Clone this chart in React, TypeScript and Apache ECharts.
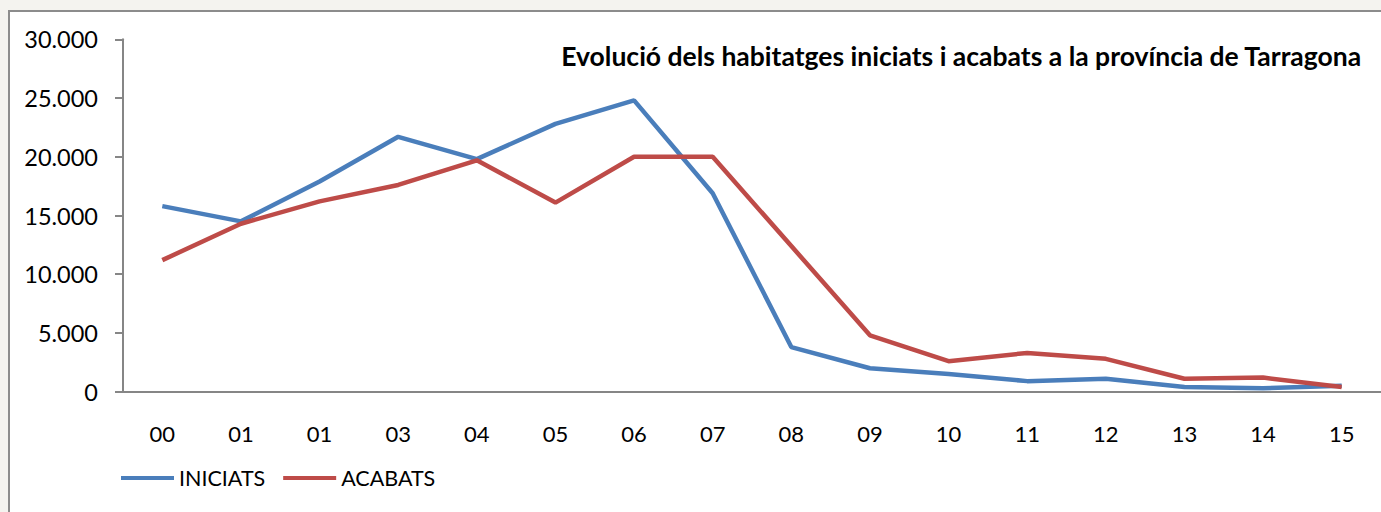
import React, { useEffect, useRef } from "react";
import * as echarts from "echarts";

const categories = ["00", "01", "01", "03", "04", "05", "06", "07", "08", "09", "10", "11", "12", "13", "14", "15"];
const iniciats = [15800, 14500, 17900, 21700, 19800, 22800, 24800, 16900, 3800, 2000, 1500, 900, 1100, 400, 300, 500];
const acabats = [11200, 14300, 16200, 17600, 19700, 16100, 20000, 20000, 12400, 4800, 2600, 3300, 2800, 1100, 1200, 400];
const titleText = "Evolució dels habitatges iniciats i acabats a la província de Tarragona";
const seriesNames = ["INICIATS", "ACABATS"];

const FONT = "Lato, 'Liberation Sans', sans-serif";

export default function App() {
  const ref = useRef<HTMLDivElement>(null);
  useEffect(() => {
    document.body.style.margin = "0";
    document.body.style.overflow = "hidden";
    const chart = echarts.init(ref.current!, null, { renderer: "svg" });
    chart.setOption({
      animation: false,
      backgroundColor: "transparent",
      title: {
        text: titleText,
        right: 14,
        top: 37,
        textStyle: { fontFamily: FONT, fontSize: 26.5, fontWeight: "bold", color: "#000" },
      },
      legend: {
        left: 116,
        top: 462,
        icon: "rect",
        itemWidth: 53,
        itemHeight: 4,
        itemGap: 18,
        textStyle: { fontFamily: FONT, fontSize: 21.5, color: "#000" },
        data: seriesNames,
      },
      grid: { left: 123, top: 39.3, height: 352.4, width: 1265, containLabel: false },
      xAxis: {
        type: "category",
        data: categories,
        boundaryGap: true,
        axisLine: { lineStyle: { color: "#868686", width: 2 } },
        axisTick: { length: 8, lineStyle: { color: "#868686", width: 2 } },
        axisLabel: { interval: 0, margin: 31, fontFamily: FONT, fontSize: 22, color: "#000" },
        splitLine: { show: false },
      },
      yAxis: {
        type: "value",
        min: 0,
        max: 30000,
        interval: 5000,
        axisLine: { show: true, lineStyle: { color: "#868686", width: 2 } },
        axisTick: { show: true, length: 8, lineStyle: { color: "#868686", width: 2 } },
        axisLabel: {
          margin: 25,
          fontFamily: FONT,
          fontSize: 23.5,
          color: "#000",
          formatter: (v: number) => (v === 0 ? "0" : v.toLocaleString("de-DE")),
        },
        splitLine: { show: false },
      },
      series: [
        {
          name: seriesNames[0],
          type: "line",
          data: iniciats,
          symbol: "none",
          lineStyle: { color: "#4a7ebb", width: 4.5 },
          itemStyle: { color: "#4a7ebb" },
        },
        {
          name: seriesNames[1],
          type: "line",
          data: acabats,
          symbol: "none",
          lineStyle: { color: "#be4b48", width: 4.5 },
          itemStyle: { color: "#be4b48" },
        },
      ],
    });
    return () => chart.dispose();
  }, []);
  return (
    <div style={{ position: "relative", width: 1381, height: 512, background: "#f4f3ef", overflow: "hidden" }}>
      <div
        style={{
          position: "absolute",
          left: 8,
          top: 10,
          width: 1400,
          height: 600,
          background: "#ffffff",
          border: "2px solid #8c8c8c",
        }}
      />
      <div ref={ref} style={{ position: "absolute", left: 0, top: 0, width: 1381, height: 512 }} />
    </div>
  );
}
